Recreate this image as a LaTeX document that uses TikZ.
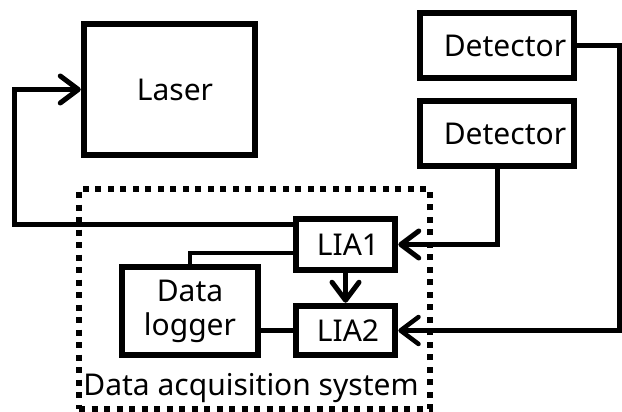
\documentclass[tikz,border=0pt]{standalone}
\usepackage{fontspec}
\setmainfont{Noto Sans}
\usetikzlibrary{arrows.meta}
\begin{document}
\begin{tikzpicture}[x=1pt,y=-1pt,
  box/.style={draw, line width=6.5pt, inner sep=0pt, align=center,
    font=\fontsize{30}{34}\selectfont},
  conn/.style={line width=5pt},
  arr/.style={conn, -{Straight Barb[length=18pt,width=27pt,round]}},
  dotbox/.style={draw, line width=6pt, dash pattern=on 6pt off 6.5pt, inner sep=0pt},
  lbl/.style={font=\fontsize{30}{34}\selectfont, inner sep=0pt}]
\useasboundingbox (0,0) rectangle (622,412);
% dotted system box
\node[dotbox, minimum width=351pt, minimum height=220pt] (daq) at (254.5,299) {};
\node[lbl, anchor=base] (daqlbl) at (251,395) {Data acquisition system};
% boxes
\node[box, minimum width=171pt, minimum height=131pt] (laser) at (169.5,89.5) {\hspace*{11pt}Laser};
\node[box, minimum width=154pt, minimum height=65pt] (det1) at (497,45.5) {\hspace*{16pt}Detector};
\node[box, minimum width=154pt, minimum height=65pt] (det2) at (497,133.5) {\hspace*{16pt}Detector};
\node[box, minimum width=99pt, minimum height=51pt] (lia1) at (345.5,244.5) {\hspace*{5pt}LIA1};
\node[box, minimum width=99pt, minimum height=49pt] (lia2) at (345.5,330.5) {\hspace*{5pt}LIA2};
\node[box, minimum width=136pt, minimum height=88pt] (logger) at (190,311) {Data\\logger};
% connectors
\coordinate (fb) at (14,89.5);
\coordinate (rt) at (619.5,45.5);
\draw[arr] ([yshift=20.5pt]lia1.west) -| (fb) -- (laser.west);
\draw[conn, line width=4.5pt] (logger.north) |- ([yshift=-8.5pt]lia1.west);
\draw[conn] (logger.east |- lia2.west) -- (lia2.west);
\draw[arr] (lia1.south) -- (lia2.north);
\draw[arr] (det2.south) |- (lia1.east);
\draw[arr, line width=4.5pt] (det1.east) -- (rt) |- (lia2.east);
\end{tikzpicture}
\end{document}
